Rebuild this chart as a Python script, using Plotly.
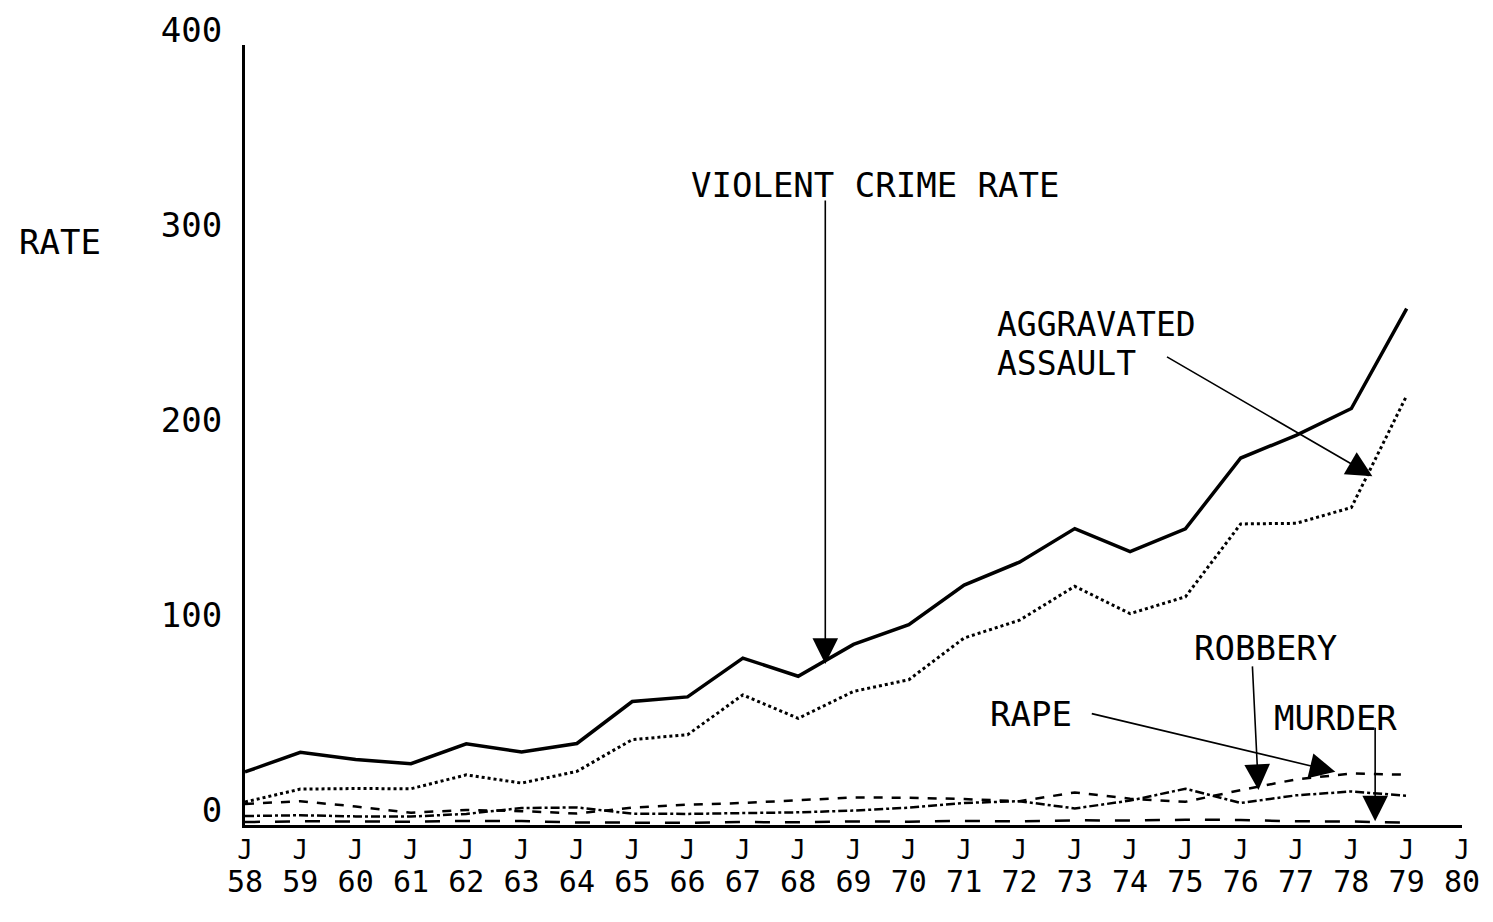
import plotly.graph_objects as go

years = list(range(58, 80))
violent = [27.2, 37.3, 33.6, 31.4, 41.6, 37.4, 41.8, 63.3, 65.7, 85.6, 76.3,
           92.6, 102.7, 123.0, 134.8, 152.0, 140.2, 151.9, 188.2, 199.8, 213.6, 264.8]
aggravated = [11.8, 18.4, 18.7, 18.6, 25.7, 21.5, 27.5, 43.8, 46.3, 66.7, 54.7,
              68.5, 74.5, 95.9, 105.0, 122.4, 108.4, 117.0, 154.4, 154.7, 162.8, 220.2]
rape = [10.8, 12.2, 9.5, 6.3, 7.7, 7.1, 5.9, 8.9, 10.4, 11.3, 12.7,
        14.1, 14.0, 13.3, 12.2, 16.7, 13.5, 11.9, 17.9, 23.4, 26.4, 25.8]
robbery = [4.6, 5.0, 4.4, 4.3, 5.7, 8.7, 9.0, 5.8, 5.7, 6.2, 6.5,
           7.4, 8.9, 11.3, 12.2, 8.5, 12.5, 18.6, 11.3, 15.2, 17.2, 15.0]
murder = [1.5, 1.9, 1.8, 1.7, 2.1, 2.0, 1.3, 1.2, 1.1, 1.5, 1.4,
          1.8, 1.7, 2.1, 1.9, 2.4, 2.3, 2.7, 2.6, 1.9, 1.8, 1.2]

tick_years = list(range(58, 81))
tick_j = ["J" for _ in tick_years]
tick_yy = [str(y) for y in tick_years]
y_ticks = [0, 100, 200, 300, 400]

FONT = "DejaVu Sans Mono"

fig = go.Figure()
fig.add_trace(go.Scatter(x=years, y=violent, mode="lines", name="VIOLENT CRIME RATE",
                         line=dict(color="black", width=3.5)))
fig.add_trace(go.Scatter(x=years, y=aggravated, mode="lines", name="AGGRAVATED ASSAULT",
                         line=dict(color="black", width=3, dash="dot")))
fig.add_trace(go.Scatter(x=years, y=rape, mode="lines", name="RAPE",
                         line=dict(color="black", width=2.5, dash="dash")))
fig.add_trace(go.Scatter(x=years, y=robbery, mode="lines", name="ROBBERY",
                         line=dict(color="black", width=2.5, dash="dashdot")))
fig.add_trace(go.Scatter(x=years, y=murder, mode="lines", name="MURDER",
                         line=dict(color="black", width=2.5, dash="longdash")))
# invisible trace on the second x axis so its year labels render
fig.add_trace(go.Scatter(x=[58, 80], y=[0, 0], mode="lines", xaxis="x2",
                         line=dict(color="rgba(0,0,0,0)"), hoverinfo="skip",
                         showlegend=False))

# Arrows: (tail_x, tail_y, tip_x, tip_y)
arrows = [
    (68.49, 321.0, 68.49, 82.6),
    (74.64, 240.5, 78.38, 178.9),
    (76.21, 82.1, 76.32, 18.0),
    (73.28, 57.3, 77.71, 27.3),
    (78.43, 50.7, 78.43, 1.9),
]
for tx, ty, hx, hy in arrows:
    fig.add_annotation(x=hx, y=hy, ax=tx, ay=ty, xref="x", yref="y",
                       axref="x", ayref="y", text="", showarrow=True,
                       arrowhead=2, arrowsize=3.2, arrowwidth=1.6,
                       arrowcolor="black", standoff=0)

labels = [
    ("VIOLENT CRIME RATE", 69.39, 328.0, "center", 34),
    ("AGGRAVATED", 71.56, 256.5, "left", 33),
    ("ASSAULT", 71.56, 236.5, "left", 33),
    ("ROBBERY", 76.45, 90.8, "center", 34),
    ("RAPE", 71.44, 56.9, "left", 34),
    ("MURDER", 77.71, 54.9, "center", 34),
]
for txt, x, y, anchor, size in labels:
    fig.add_annotation(x=x, y=y, xref="x", yref="y", text=txt, showarrow=False,
                       xanchor=anchor, align="left",
                       font=dict(family=FONT, size=size, color="black"))

fig.add_annotation(x=-0.152, y=0.747, xref="paper", yref="paper", text="RATE",
                   showarrow=False, xanchor="center", yanchor="middle",
                   font=dict(family=FONT, size=34, color="black"))

fig.update_layout(
    width=1477, height=906,
    paper_bgcolor="white", plot_bgcolor="white",
    margin=dict(l=237, r=23, t=37, b=89, autoexpand=False),
    showlegend=False,
    font=dict(family=FONT, color="black"),
    xaxis2=dict(overlaying="x", anchor="y", side="bottom", matches="x",
                range=[58, 80], tickvals=tick_years, ticktext=tick_yy,
                showgrid=False, zeroline=False, showline=False, ticks="",
                ticklabelstandoff=36, automargin=False,
                tickfont=dict(family=FONT, size=30, color="black")),
)
fig.layout.xaxis.update(range=[58, 80], tickvals=tick_years, ticktext=tick_j,
                        showgrid=False, zeroline=False, showline=True,
                        linecolor="black", linewidth=2.5, ticks="",
                        ticklabelstandoff=0, automargin=False,
                        tickfont=dict(family=FONT, size=26, color="black"))
fig.update_yaxes(range=[0, 400], tickvals=y_ticks,
                 ticktext=[str(v) for v in y_ticks],
                 showgrid=False, zeroline=False, showline=True,
                 linecolor="black", linewidth=3, ticks="",
                 ticklabelstandoff=13, ticklabelshift=-15,
                 ticklabeloverflow="allow", automargin=False,
                 tickfont=dict(family=FONT, size=34, color="black"))

fig.write_html("out.html")
